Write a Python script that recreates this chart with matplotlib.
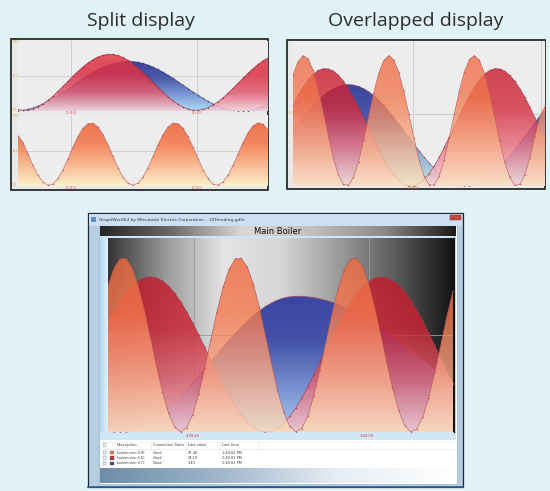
import numpy as np
import matplotlib
matplotlib.use("Agg")
import matplotlib.pyplot as plt
from matplotlib.colors import LinearSegmentedColormap
from matplotlib.patches import Rectangle, PathPatch
from matplotlib.path import Path

W, H = 550, 491

# Trend values (percent of the trend range)
split_red = [2.0, 1.0, 1.4, 3.2, 6.1, 10.2, 15.4, 21.4, 28.1, 35.2, 42.4, 49.7, 56.6, 63.0, 68.8,
             73.5, 77.3, 79.7, 80.9, 80.8, 79.3, 76.5, 72.6, 67.6, 61.8, 55.3, 48.3, 41.0, 33.7,
             26.7, 20.2, 14.4, 9.4, 5.5, 2.7, 1.2, 1.1, 2.3, 4.8, 8.5, 13.2, 19.0, 25.4, 32.3,
             39.6, 46.8, 53.9, 60.6, 66.6, 71.8, 75.9]
split_blue = [0.1, 0.9, 2.3, 4.3, 7.0, 10.2, 13.9, 18.0, 22.5, 27.2, 32.0, 37.0, 41.9, 46.6, 51.2,
              55.4, 59.3, 62.7, 65.6, 67.9, 69.6, 70.6, 71.0, 70.7, 69.7, 68.0, 65.7, 62.8, 59.4,
              55.6, 51.3, 46.8, 41.9, 37.0, 32.1, 27.2, 22.5, 18.1, 13.9, 10.3, 7.0, 4.4, 2.3,
              0.9, 0.1, 0.1, 0.7, 2.0, 3.9, 6.4, 9.5]
split_orange = [71.0, 61.1, 45.0, 28.9, 15.1, 5.4, 1.1, 2.9, 10.6, 23.0, 38.4, 54.8, 69.8, 81.3,
                87.9, 88.5, 83.1, 72.4, 58.0, 41.7, 25.9, 12.7, 4.0, 1.0, 4.0, 12.7, 25.9, 41.7,
                58.0, 72.4, 83.1, 88.5, 87.9, 81.3, 69.8, 54.8, 38.4, 23.0, 10.6, 2.9, 1.1, 5.4,
                15.1, 28.9, 45.0, 61.1, 74.9, 84.6, 88.9, 87.1, 79.4]

over_orange = [76.6, 85.8, 89.9, 87.8, 79.8, 67.0, 51.3, 34.6, 19.4, 7.7, 1.1, 0.5, 6.0, 16.7,
               31.4, 47.9, 64.1, 77.6, 86.6, 90.0, 87.2, 78.4, 65.2, 49.6, 33.0, 18.2, 6.8, 0.8,
               0.8, 6.8, 18.1, 33.0, 49.6, 65.6, 78.8, 87.3, 90.0, 86.6, 77.6, 63.8, 47.9, 31.4,
               16.7, 6.0, 0.5, 1.1, 7.7, 19.4, 34.7, 48.0, 55.0]
over_red = [55.8, 62.5, 68.3, 73.3, 77.1, 79.7, 80.9, 80.8, 79.3, 76.4, 72.4, 67.2, 61.2, 54.4,
            47.2, 39.8, 32.3, 25.2, 18.6, 12.6, 7.7, 3.9, 1.3, 0.1, 0.2, 1.8, 4.6, 8.5, 13.7,
            19.8, 26.6, 33.8, 41.2, 48.7, 55.8, 62.4, 68.3, 73.3, 77.1, 79.7, 80.9, 80.8, 79.3,
            76.4, 72.4, 67.2, 61.2, 54.4, 47.2, 39.8, 32.3]
over_blue = [38.3, 42.9, 47.4, 51.7, 55.7, 59.3, 62.4, 65.1, 67.2, 68.7, 69.7, 70.0, 69.7, 68.7,
             67.2, 65.1, 62.4, 59.3, 55.7, 51.7, 47.4, 42.9, 38.3, 33.6, 28.9, 24.4, 20.0, 15.9,
             12.2, 8.8, 5.9, 3.6, 1.7, 0.6, 0.0, 0.1, 0.8, 2.1, 4.1, 6.5, 9.5, 12.9, 16.8, 20.9,
             25.3, 29.9, 34.5, 39.2, 43.8, 48.3, 52.5]

boiler_orange = [75.6, 84.6, 89.4, 89.4, 84.6, 75.6, 63.3, 49.0, 34.3, 20.7, 9.8, 2.6, 0.0, 2.2,
                 9.0, 19.7, 33.1, 47.8, 62.1, 74.6, 83.8, 89.2, 89.6, 85.2, 76.5, 64.4, 50.2,
                 35.5, 21.8, 10.5, 3.0, 0.0, 1.8, 8.2, 18.7, 31.9, 46.6, 61.0, 73.7, 83.4, 88.9,
                 89.7, 85.7, 77.4, 65.5, 51.4, 36.7, 22.9, 11.4, 3.5, 0.1, 1.5, 7.6, 17.7, 30.7,
                 45.3, 59.9, 72.8]
boiler_red = [56.3, 62.0, 67.2, 71.6, 75.2, 77.9, 79.5, 80.0, 79.5, 77.9, 75.2, 71.6, 67.2, 62.0,
              56.3, 50.0, 43.6, 37.0, 30.5, 24.2, 18.4, 13.2, 8.7, 5.1, 2.3, 0.6, 0.0, 0.4, 1.9,
              4.5, 8.0, 12.3, 17.5, 23.3, 29.4, 35.9, 42.5, 49.0, 55.2, 61.1, 66.3, 71.0, 74.7,
              77.5, 79.3, 80.0, 79.6, 78.2, 75.7, 72.3, 68.0, 63.0, 57.2, 51.1, 44.6, 38.1,
              31.6, 25.2]
boiler_blue = [0.8, 0.2, 0.0, 0.2, 0.8, 1.8, 3.2, 5.0, 7.1, 9.5, 12.2, 15.2, 18.4, 21.8, 25.4,
               29.0, 32.8, 36.6, 40.3, 44.0, 47.6, 51.0, 54.3, 57.3, 60.1, 62.5, 64.7, 66.5,
               68.0, 69.1, 69.7, 70.0, 69.9, 69.7, 69.3, 68.7, 67.9, 66.9, 65.8, 64.5, 63.1,
               61.5, 59.7, 57.9, 55.9, 53.8, 51.6, 49.4, 47.0, 44.6, 42.1, 39.6, 37.1, 34.6,
               32.1, 29.5, 27.1, 24.6]

table_headers = ["Description", "Connection Statu", "Last value", "Last time"]
table_names = ["localsim:sine::0.9C", "localsim:sine::0.8C", "localsim:sine::0.7C"]
table_status = ["Good", "Good", "Good"]
table_values = ["76.48", "29.10", "1.43"]
table_times = ["1:40:02 PM", "1:40:02 PM", "1:40:02 PM"]
table_colors = ["#f07850", "#d02a3a", "#3a4aa0"]

fig = plt.figure(figsize=(W / 100, H / 100), dpi=100)
fig.patch.set_facecolor("#e1f2f6")

# pixel-space canvas for frames, window chrome and labels
bg = fig.add_axes([0, 0, 1, 1])
bg.axis("off")


def px_axes(l, t, r, b):
    ax = fig.add_axes([l / W, 1 - b / H, (r - l) / W, (b - t) / H])
    ax.set_xticks([])
    ax.set_yticks([])
    for s in ax.spines.values():
        s.set_visible(False)
    return ax


def hgrad(ax, extent, colors, z=1):
    cmap = LinearSegmentedColormap.from_list("h", colors)
    ax.imshow(np.linspace(0, 1, 256).reshape(1, -1), cmap=cmap, aspect="auto",
              extent=extent, zorder=z, interpolation="bilinear")


def series(ax, values, colors, alpha, line, z):
    # area under the trend, shaded from the curve's peak down to the baseline
    t = np.arange(len(values))
    v = np.asarray(values, float)
    verts = np.column_stack([np.r_[t[0], t, t[-1]], np.r_[0, v, 0]])
    patch = PathPatch(Path(verts), facecolor="none", edgecolor="none")
    ax.add_patch(patch)
    cmap = LinearSegmentedColormap.from_list("v", colors)
    im = ax.imshow(np.linspace(0, 1, 256).reshape(-1, 1), cmap=cmap, aspect="auto",
                   origin="lower", extent=(t[0], t[-1], 0, v.max()), alpha=alpha, zorder=z,
                   interpolation="bilinear")
    im.set_clip_path(patch)
    ax.plot(t, v, color=line, lw=0.5, marker="o", ms=1.1, mew=0, alpha=0.8, zorder=z + 0.1)


def finish(ax, n, grid_x, gridc):
    ax.set_xlim(0, n - 1)
    ax.set_ylim(0, 100)
    for gx in grid_x:
        ax.axvline(gx, color=gridc, lw=0.6, zorder=0.5)
    ax.axhline(50, color=gridc, lw=0.6, zorder=0.5)


RED = ["#f6d4dc", "#e87080", "#d42a3c", "#c81c2c"]
BLUE = ["#aadcf6", "#7c98d4", "#4a58a8", "#3a46a0"]
ORANGE = ["#fcf0cc", "#f8b890", "#f28660", "#f07650"]

# ---------------- titles ----------------
bg.text(141, 21, "Split display", ha="center", va="center", fontsize=14,
        color="#2b2b2b", family="Open Sans")
bg.text(416, 21, "Overlapped display", ha="center", va="center", fontsize=14,
        color="#2b2b2b", family="Open Sans")

# ---------------- split display ----------------
bg.add_patch(Rectangle((11, 39), 257, 151, fc="#e9e9e9", ec="#2a2a2a", lw=1.3, zorder=2))
for yy, lab in [(42, "100.0"), (76, "50.0"), (110, "0.0"), (116, "100.0"), (151, "50.0"), (185, "0.0")]:
    bg.text(12.5, yy, lab, fontsize=1.8, color="#e0a840", va="center", zorder=3)
for xx, lab in [(71, "10:38:00"), (197, "10:39:00")]:
    bg.text(xx, 113.2, lab, fontsize=1.8, color="#e05050", ha="center", va="center", zorder=3)
    bg.text(xx, 187.8, lab, fontsize=1.8, color="#e05050", ha="center", va="center", zorder=3)

ax1 = px_axes(18, 41, 268, 111)
ax1.set_facecolor("#ededed")
series(ax1, split_blue, BLUE, 1.0, "#35386a", 2)
series(ax1, split_red, ["#f4d0da", "#e05a70", "#dc3044", "#e03a48"], 0.86, "#8a3040", 3)
finish(ax1, len(split_red), [10.6, 35.8], "#c8c8c8")

ax2 = px_axes(18, 115, 268, 186)
ax2.set_facecolor("#ededed")
series(ax2, split_orange, ORANGE, 1.0, "#b85a5a", 2)
finish(ax2, len(split_orange), [10.6, 35.8], "#c8c8c8")

# ---------------- overlapped display ----------------
bg.add_patch(Rectangle((287, 40), 258, 149, fc="#e9e9e9", ec="#2a2a2a", lw=1.3, zorder=2))
bg.text(288.5, 113, "50.0", fontsize=1.8, color="#e0a840", va="center", zorder=3)
bg.text(413, 187.6, "10:39:00", fontsize=1.8, color="#e05050", ha="center", va="center", zorder=3)

ax3 = px_axes(293, 41, 545, 186)
ax3.set_facecolor("#ededed")
series(ax3, over_blue, ["#c4f0d8", "#8aa8dc", "#4a58a8", "#3a46a0"], 1.0, "#8a4a5a", 2)
series(ax3, over_red, RED, 0.8, "#9a3a4a", 3)
series(ax3, over_orange, ["#fde2c2", "#f8b088", "#f27a50", "#f06a44"], 0.78, "#b85a5a", 4)
finish(ax3, len(over_red), [23.8, 49.2], "#c8c8c8")

# ---------------- trend viewer window ----------------
bg.add_patch(Rectangle((88, 213), 375, 274, fc="#b7cde0", ec="#1c2733", lw=0.9, zorder=1))
bg.add_patch(Rectangle((89, 214), 373, 12, fc="#cddff0", ec="none", zorder=1.1))
bg.add_patch(Rectangle((91, 217), 5, 5, fc="#5d8fc4", ec="none", zorder=1.2))
bg.add_patch(Rectangle((450, 214.5), 11, 5.5, fc="#c9473c", ec="#7a2a24", lw=0.3, zorder=1.2))
bg.text(99, 219.5, "GraphWorX64 by Mitsubishi Electric Corporation \u2013 20Trending.gdfx",
        fontsize=3.2, color="#2a3a4a", va="center", zorder=1.3)
bg.add_patch(Rectangle((99, 226), 358, 258, fc="white", ec="#8aa4bb", lw=0.4, zorder=1.1))

hgrad(bg, (100, 456, 236, 227), ["#262626", "#6a6a6a", "#d9d9d9", "#c0c0c0", "#8a8a8a", "#1a1a1a"], 1.2)
bg.text(278, 231.5, "Main Boiler", fontsize=6, color="#111111", ha="center", va="center", zorder=1.3)

bg.add_patch(Rectangle((100, 236), 356, 2.5, fc="#cfe5f5", ec="none", zorder=1.2))
hgrad(bg, (100, 108, 433, 238), ["#b0d6f0", "#e2f1fb"], 1.2)
bg.add_patch(Rectangle((100, 432), 356, 7.5, fc="#d2e7f6", ec="none", zorder=1.2))
for xx, lab in [(193, "1:39:40"), (367, "1:40:00")]:
    bg.text(xx, 435.8, lab, fontsize=2.6, color="#e03030", ha="center", va="center", zorder=1.3)
bg.plot([453.5, 453.5], [238, 432], color="#111111", lw=1.0, zorder=1.4)

# table of pens
cols_x = [117, 153, 188, 222]
bg.plot([100, 456], [448.5, 448.5], color="#dddddd", lw=0.4, zorder=1.3)
bg.plot([100, 456], [441.5, 441.5], color="#e6e6e6", lw=0.4, zorder=1.3)
bg.add_patch(Rectangle((102.5, 443), 3.5, 3.5, fc="#e8f0f8", ec="#7a90a8", lw=0.3, zorder=1.3))
for cx, head in zip(cols_x, table_headers):
    bg.text(cx, 445, head, fontsize=2.5, color="#333333", va="center", zorder=1.4)
for cx in [151, 186, 220, 258]:
    bg.plot([cx, cx], [441.5, 448.5], color="#e0e0e0", lw=0.4, zorder=1.3)
for i in range(len(table_names)):
    yy = 452.5 + 5.5 * i
    bg.add_patch(Rectangle((102.5, yy - 1.7), 3.5, 3.5, fc="#e8f0f8", ec="#7a90a8", lw=0.3, zorder=1.3))
    bg.add_patch(Rectangle((109.5, yy - 1.8), 4, 3.6, fc=table_colors[i], ec="#555555", lw=0.2, zorder=1.3))
    bg.text(cols_x[0], yy, table_names[i], fontsize=2.2, color="#333333", va="center", zorder=1.4)
    bg.text(cols_x[1], yy, table_status[i], fontsize=2.5, color="#333333", va="center", zorder=1.4)
    bg.text(cols_x[2], yy, table_values[i], fontsize=2.5, color="#333333", va="center", zorder=1.4)
    bg.text(cols_x[3], yy, table_times[i], fontsize=2.5, color="#333333", va="center", zorder=1.4)
hgrad(bg, (100, 456, 483, 468), ["#6f8ca8", "#9fb6ca", "#e6eef4", "#ffffff"], 1.2)
bg.plot([88, 463], [486.5, 486.5], color="#2d5f95", lw=1.2, zorder=1.4)

bg.set_xlim(0, W)
bg.set_ylim(H, 0)

ax4 = px_axes(108, 238, 453, 432)
n4 = len(boiler_red)
hgrad(ax4, (0, n4 - 1, 0, 100), ["#353535", "#9a9a9a", "#e4e4e4", "#d6d6d6", "#9c9c9c", "#5a5a5a", "#141414"], 0.2)
series(ax4, boiler_blue, ["#a8cdf0", "#7890d0", "#4452a8", "#3a46a4"], 1.0, "#a04a5a", 2)
series(ax4, boiler_red, ["#f4c4cc", "#e06070", "#cc2232", "#c41a2a"], 0.82, "#a03a4a", 3)
series(ax4, boiler_orange, ["#fcdcbc", "#f8a888", "#f47a50", "#f26a3e"], 0.8, "#b05050", 4)
finish(ax4, n4, [14.2, 43.2], "#9a9a9a")

fig.savefig("out.png", dpi=100, facecolor=fig.get_facecolor())
